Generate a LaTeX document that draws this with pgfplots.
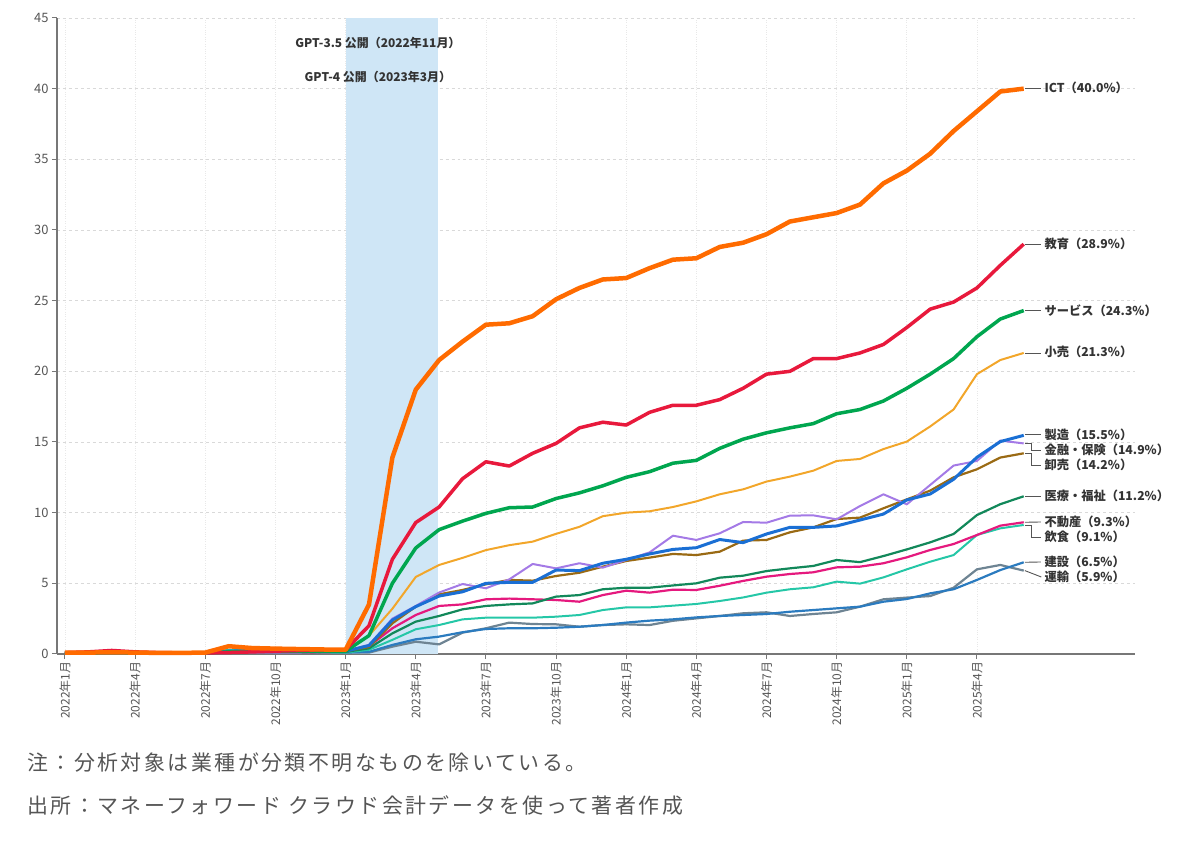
\documentclass[border=0pt]{standalone}
\usepackage{fontspec}
\setmainfont{Noto Sans CJK JP}
\newfontfamily\notefont[LetterSpace=12]{Noto Sans CJK JP}
\usepackage{pgfplots}
\usepackage{pgfplotstable}
\pgfplotsset{compat=1.18}
\definecolor{cict}{HTML}{FF6B00}
\definecolor{cedu}{HTML}{E8193C}
\definecolor{csvc}{HTML}{00A64F}
\definecolor{cret}{HTML}{F2A62A}
\definecolor{cmfg}{HTML}{1A6FD4}
\definecolor{cfin}{HTML}{A47AE6}
\definecolor{cwhl}{HTML}{9A6A14}
\definecolor{cmed}{HTML}{12885A}
\definecolor{crea}{HTML}{E5197E}
\definecolor{cfnb}{HTML}{25C7A7}
\definecolor{ccon}{HTML}{2B7BBF}
\definecolor{ctrn}{HTML}{6E8493}
\definecolor{cshade}{HTML}{CFE6F6}
\definecolor{caxis}{HTML}{777777}
\definecolor{ctick}{HTML}{555555}
\definecolor{ctext}{HTML}{333333}
\definecolor{cnote}{HTML}{555555}
\definecolor{cgrid}{HTML}{D9D9D9}
\definecolor{cconn}{HTML}{555555}

\pgfplotstableread{
idx ict edu svc ret mfg fin whl med rea fnb con trn
0 0.10 0.10 0.08 0.08 0.08 0.05 0.08 0.05 0.05 0.05 0.10 0.05
1 0.10 0.15 0.08 0.08 0.08 0.05 0.08 0.05 0.05 0.05 0.10 0.05
2 0.12 0.25 0.10 0.10 0.08 0.05 0.08 0.05 0.06 0.05 0.10 0.05
3 0.10 0.15 0.08 0.08 0.08 0.05 0.08 0.05 0.05 0.05 0.10 0.05
4 0.08 0.10 0.06 0.06 0.06 0.05 0.06 0.05 0.05 0.05 0.08 0.05
5 0.08 0.08 0.06 0.06 0.06 0.05 0.06 0.05 0.05 0.05 0.08 0.05
6 0.10 0.08 0.08 0.08 0.08 0.05 0.08 0.05 0.05 0.05 0.10 0.05
7 0.55 0.10 0.15 0.15 0.20 0.10 0.12 0.10 0.08 0.30 0.15 0.08
8 0.42 0.15 0.18 0.20 0.25 0.10 0.15 0.12 0.10 0.30 0.20 0.10
9 0.38 0.20 0.18 0.20 0.25 0.10 0.15 0.12 0.10 0.25 0.20 0.10
10 0.35 0.25 0.18 0.20 0.20 0.10 0.15 0.12 0.10 0.20 0.20 0.08
11 0.32 0.30 0.20 0.20 0.20 0.15 0.20 0.15 0.12 0.10 0.15 0.08
12 0.30 0.30 0.20 0.20 0.20 0.20 0.20 0.15 0.15 0.10 0.10 0.10
13 3.50 2.00 1.30 1.30 0.60 0.65 0.50 0.40 0.55 0.30 0.15 0.10
14 13.90 6.70 5.00 3.20 2.40 2.50 2.17 1.46 1.82 1.00 0.64 0.52
15 18.70 9.30 7.50 5.45 3.35 3.40 3.35 2.29 2.76 1.75 1.04 0.87
16 20.80 10.40 8.80 6.30 4.10 4.35 4.22 2.69 3.40 2.05 1.23 0.68
17 22.10 12.40 9.40 6.80 4.40 4.95 4.53 3.16 3.51 2.45 1.54 1.51
18 23.30 13.60 9.95 7.35 5.00 4.65 4.93 3.40 3.87 2.57 1.77 1.82
19 23.40 13.30 10.35 7.70 5.07 5.28 5.24 3.51 3.92 2.57 1.82 2.22
20 23.90 14.20 10.40 7.95 5.07 6.37 5.19 3.58 3.87 2.57 1.82 2.12
21 25.10 14.90 11.00 8.50 5.94 6.06 5.52 4.06 3.82 2.64 1.86 2.10
22 25.90 16.00 11.40 9.00 5.90 6.42 5.75 4.17 3.70 2.76 1.93 1.93
23 26.50 16.40 11.90 9.75 6.42 6.11 6.18 4.58 4.17 3.11 2.05 2.05
24 26.60 16.20 12.50 10.00 6.70 6.65 6.58 4.69 4.48 3.30 2.22 2.10
25 27.30 17.10 12.90 10.10 7.08 7.19 6.82 4.69 4.34 3.30 2.36 2.05
26 27.90 17.60 13.50 10.40 7.40 8.37 7.08 4.85 4.55 3.42 2.45 2.35
27 28.00 17.60 13.70 10.80 7.52 8.07 7.00 5.00 4.53 3.54 2.59 2.52
28 28.80 18.00 14.55 11.30 8.10 8.54 7.24 5.40 4.83 3.75 2.69 2.69
29 29.10 18.80 15.20 11.65 7.88 9.34 8.02 5.54 5.17 4.00 2.76 2.88
30 29.70 19.80 15.65 12.20 8.49 9.29 8.07 5.87 5.47 4.34 2.83 2.95
31 30.60 20.00 16.00 12.55 8.96 9.79 8.61 6.06 5.66 4.58 2.99 2.69
32 30.90 20.90 16.30 12.97 8.96 9.81 8.96 6.23 5.78 4.72 3.11 2.83
33 31.20 20.90 17.00 13.66 9.06 9.53 9.55 6.65 6.13 5.12 3.23 2.95
34 31.80 21.30 17.30 13.80 9.48 10.47 9.65 6.50 6.18 4.98 3.35 3.35
35 33.30 21.90 17.90 14.50 9.90 11.30 10.31 6.93 6.42 5.42 3.70 3.87
36 34.20 23.10 18.80 15.03 10.90 10.59 10.94 7.40 6.84 5.99 3.89 3.99
37 35.40 24.40 19.80 16.10 11.32 11.96 11.56 7.90 7.36 6.53 4.29 4.10
38 37.00 24.90 20.90 17.30 12.36 13.33 12.50 8.49 7.78 7.00 4.58 4.69
39 38.40 25.90 22.45 19.80 13.92 13.66 13.07 9.83 8.42 8.42 5.24 5.99
40 39.80 27.50 23.70 20.80 15.03 15.10 13.90 10.60 9.08 8.89 5.94 6.30
41 40.00 29.00 24.30 21.30 15.47 14.90 14.20 11.16 9.32 9.13 6.49 5.90
}\data

\begin{document}
\begin{tikzpicture}
\path[use as bounding box] (0bp,0bp) rectangle (1200bp,848bp);
\begin{axis}[
  at={(57bp,194bp)}, anchor=south west,
  scale only axis, width=1078bp, height=636bp,
  xmin=-0.342, xmax=45.76, ymin=0, ymax=45,
  clip=false,
  axis x line*=bottom, axis y line*=left,
  axis line style={draw=caxis, line width=1.5bp},
  y axis line style={line width=2bp},
  xtick={0,3,...,39},
  xticklabels={2022年1月,2022年4月,2022年7月,2022年10月,2023年1月,2023年4月,2023年7月,2023年10月,2024年1月,2024年4月,2024年7月,2024年10月,2025年1月,2025年4月},
  ytick={0,5,...,45},
  tick align=outside, major tick length=5bp,
  tick style={draw=caxis, line width=1bp},
  xticklabel style={rotate=90, anchor=east, font=\fontsize{12}{14}\selectfont, text=ctick, inner sep=2.5bp},
  yticklabel style={font=\fontsize{13}{15}\selectfont, text=ctick},
  /pgf/number format/assume math mode=true,
  xmajorgrids, ymajorgrids,
  x grid style={draw=cgrid!60, dotted, line width=0.8bp},
  y grid style={draw=cgrid, dashed, line width=0.8bp},
  every axis plot/.append style={no markers, line join=round},
]
\fill[cshade] (axis cs:12,0) rectangle (axis cs:15.94,45);
\addplot[ctrn, line width=2.2bp] table[x=idx, y=trn] {\data};
\addplot[ccon, line width=2.2bp] table[x=idx, y=con] {\data};
\addplot[cfnb, line width=2bp] table[x=idx, y=fnb] {\data};
\addplot[crea, line width=2.2bp] table[x=idx, y=rea] {\data};
\addplot[cmed, line width=2.2bp] table[x=idx, y=med] {\data};
\addplot[cwhl, line width=2.2bp] table[x=idx, y=whl] {\data};
\addplot[cfin, line width=2bp] table[x=idx, y=fin] {\data};
\addplot[cmfg, line width=3bp] table[x=idx, y=mfg] {\data};
\addplot[cret, line width=2bp] table[x=idx, y=ret] {\data};
\addplot[csvc, line width=3.5bp] table[x=idx, y=svc] {\data};
\addplot[cedu, line width=3.5bp] table[x=idx, y=edu] {\data};
\addplot[cict, line width=4.5bp] table[x=idx, y=ict] {\data};

\begin{scope}[every node/.style={anchor=west, inner sep=0pt, text=ctext, font=\bfseries\fontsize{12.3}{14}\selectfont}]
\draw[cconn, line width=0.9bp] (axis cs:41.05,40.0) -- (axis cs:41.73,40.0);
\node at (axis cs:41.88,40.05) {ICT（40.0\%）};
\draw[cconn, line width=0.9bp] (axis cs:41.05,29.0) -- (axis cs:41.73,29.0);
\node at (axis cs:41.88,29.0) {教育（28.9\%）};
\draw[cconn, line width=0.9bp] (axis cs:41.05,24.3) -- (axis cs:41.73,24.3);
\node at (axis cs:41.88,24.27) {サービス（24.3\%）};
\draw[cconn, line width=0.9bp] (axis cs:41.05,21.3) -- (axis cs:41.73,21.3);
\node at (axis cs:41.88,21.37) {小売（21.3\%）};
\draw[cconn, line width=0.9bp] (axis cs:41.05,15.5) -- (axis cs:41.73,15.5);
\node at (axis cs:41.88,15.5) {製造（15.5\%）};
\draw[cconn, line width=0.9bp] (axis cs:41.05,14.9) -- (axis cs:41.34,14.9) -- (axis cs:41.34,14.43) -- (axis cs:41.75,14.43);
\node at (axis cs:41.88,14.43) {金融・保険（14.9\%）};
\draw[cconn, line width=0.9bp] (axis cs:41.05,14.2) -- (axis cs:41.34,14.2) -- (axis cs:41.34,13.37) -- (axis cs:41.75,13.37);
\node at (axis cs:41.88,13.37) {卸売（14.2\%）};
\draw[cconn, line width=0.9bp] (axis cs:41.05,11.16) -- (axis cs:41.73,11.16);
\node at (axis cs:41.88,11.18) {医療・福祉（11.2\%）};
\draw[cconn, line width=0.9bp] (axis cs:41.05,9.32) -- (axis cs:41.73,9.34);
\node at (axis cs:41.88,9.34) {不動産（9.3\%）};
\draw[cconn, line width=0.9bp] (axis cs:41.05,9.13) -- (axis cs:41.34,9.13) -- (axis cs:41.34,8.28) -- (axis cs:41.75,8.28);
\node at (axis cs:41.88,8.28) {飲食（9.1\%）};
\draw[cconn, line width=0.9bp] (axis cs:41.05,6.49) -- (axis cs:41.73,6.51);
\node at (axis cs:41.88,6.51) {建設（6.5\%）};
\draw[cconn, line width=0.9bp] (axis cs:41.05,5.9) -- (axis cs:41.75,5.45);
\node at (axis cs:41.88,5.45) {運輸（5.9\%）};
\end{scope}
\node[anchor=center, inner sep=0pt, text=ctext, font=\bfseries\fontsize{12}{14}\selectfont] at (axis cs:13.38,43.23) {GPT-3.5 公開（2022年11月）};
\node[anchor=center, inner sep=0pt, text=ctext, font=\bfseries\fontsize{12}{14}\selectfont] at (axis cs:13.38,40.83) {GPT-4 公開（2023年3月）};
\end{axis}
\node[anchor=west, inner sep=0pt, text=cnote, font=\notefont\fontsize{21}{24}\selectfont] at (27bp,85bp) {注：分析対象は業種が分類不明なものを除いている。};
\node[anchor=west, inner sep=0pt, text=cnote, font=\notefont\fontsize{21}{24}\selectfont] at (27bp,43bp) {出所：マネーフォワード クラウド会計データを使って著者作成};
\end{tikzpicture}
\end{document}
